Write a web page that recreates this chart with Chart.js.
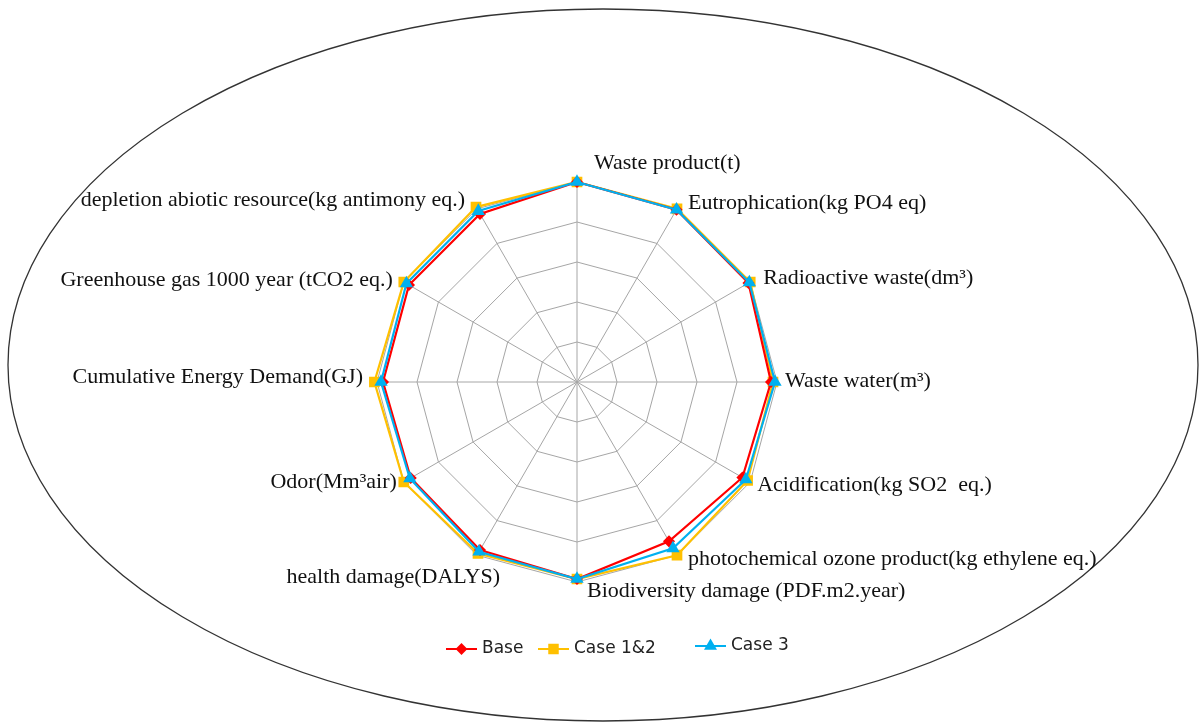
<!DOCTYPE html>
<html>
<head>
<meta charset="utf-8">
<script src="https://cdn.jsdelivr.net/npm/chart.js@4/dist/chart.umd.min.js"></script>
<style>
  body { margin: 0; background: #fff; }
  #radar { display: block; }
</style>
</head>
<body>
<canvas id="radar" width="1199" height="722"></canvas>
<script>
// categories (clockwise from top)
const categories = [
    "Waste product(t)",
    "Eutrophication(kg PO4 eq)",
    "Radioactive waste(dm³)",
    "Waste water(m³)",
    "Acidification(kg SO2  eq.)",
    "photochemical ozone product(kg ethylene eq.)",
    "Biodiversity damage (PDF.m2.year)",
    "health damage(DALYS)",
    "Odor(Mm³air)",
    "Cumulative Energy Demand(GJ)",
    "Greenhouse gas 1000 year (tCO2 eq.)",
    "depletion abiotic resource(kg antimony eq.)"
];

// series values (outer ring = 1)
const baseValues   = [1.00, 0.995, 0.99, 0.97, 0.955, 0.92, 0.985, 0.97, 0.96, 0.97, 0.97, 0.97];
const case12Values = [1.00, 1.00, 1.00, 0.98, 0.985, 1.00, 0.985, 0.99, 1.00, 1.013, 1.00, 1.01];
const case3Values  = [1.00, 0.995, 0.995, 0.99, 0.975, 0.96, 0.985, 0.98, 0.965, 0.98, 0.985, 0.987];

const seriesNames = ["Base", "Case 1&2", "Case 3"];

// grid rings
const scaleMin = 0;
const scaleMax = 1;
const scaleStep = 0.2;

const RED = "#ff0000";
const YELLOW = "#ffc000";
const BLUE = "#00b0f0";

// label placement relative to the end of each axis: [dx, dy, align]
const labelOffsets = [
    [17, -19, "left"],
    [11, -6, "left"],
    [13, -4, "left"],
    [8, -1, "left"],
    [7, 3, "left"],
    [11, 4, "left"],
    [10, 9, "left"],
    [23, 22, "right"],
    [-7, 0, "right"],
    [-14, -5, "right"],
    [-11, -2, "right"],
    [-12, -9, "right"]
];

// ellipse frame behind the chart
const framePlugin = {
    id: "frame",
    beforeDraw(chart) {
        const ctx = chart.ctx;
        ctx.save();
        ctx.fillStyle = "#fff";
        ctx.fillRect(0, 0, chart.width, chart.height);
        ctx.beginPath();
        ctx.ellipse(603, 365, 595, 356, 0, 0, Math.PI * 2);
        ctx.strokeStyle = "#333";
        ctx.lineWidth = 1.3;
        ctx.stroke();
        ctx.restore();
    }
};

// axis labels placed like the original text boxes
const axisLabelPlugin = {
    id: "axisLabels",
    afterDraw(chart) {
        const scale = chart.scales.r;
        const ctx = chart.ctx;
        ctx.save();
        ctx.font = '22px "Liberation Serif", "Times New Roman", serif';
        ctx.fillStyle = "#111";
        ctx.textBaseline = "middle";
        categories.forEach((label, i) => {
            const p = scale.getPointPosition(i, scale.drawingArea);
            const off = labelOffsets[i];
            ctx.textAlign = off[2];
            ctx.fillText(label, p.x + off[0], p.y + off[1]);
        });
        ctx.restore();
    }
};

// legend: line with marker, like the original
const legendPlugin = {
    id: "lineLegend",
    afterDraw(chart) {
        const ctx = chart.ctx;
        const spots = [[446, 649], [538, 649], [695, 646]];
        ctx.save();
        ctx.font = '17px "DejaVu Sans", Verdana, sans-serif';
        ctx.textBaseline = "middle";
        ctx.textAlign = "left";
        seriesNames.forEach((name, i) => {
            const ds = chart.data.datasets.find(d => d.label === name);
            const [x, y] = spots[i];
            ctx.strokeStyle = ds.borderColor;
            ctx.fillStyle = ds.borderColor;
            ctx.lineWidth = 2;
            ctx.beginPath();
            ctx.moveTo(x, y);
            ctx.lineTo(x + 31, y);
            ctx.stroke();
            Chart.helpers.drawPoint(ctx, {
                pointStyle: ds.pointStyle,
                radius: ds.pointRadius,
                borderWidth: 1
            }, x + 15.5, y);
            ctx.fillStyle = "#222";
            ctx.fillText(name, x + 36, y);
        });
        ctx.restore();
    }
};

const ctx1 = document.getElementById("radar").getContext("2d");
const chart1 = new Chart(ctx1, {
    type: "radar",
    data: {
        labels: categories,
        datasets: [
            {
                label: seriesNames[0],
                data: baseValues,
                borderColor: RED,
                backgroundColor: RED,
                pointBackgroundColor: RED,
                pointBorderColor: RED,
                pointStyle: "rectRot",
                pointRadius: 4.5,
                borderWidth: 2.2,
                fill: false,
                clip: false,
                order: 1
            },
            {
                label: seriesNames[1],
                data: case12Values,
                borderColor: YELLOW,
                backgroundColor: YELLOW,
                pointBackgroundColor: YELLOW,
                pointBorderColor: YELLOW,
                pointStyle: "rect",
                pointRadius: 6,
                borderWidth: 2.2,
                fill: false,
                clip: false,
                order: 2
            },
            {
                label: seriesNames[2],
                data: case3Values,
                borderColor: BLUE,
                backgroundColor: BLUE,
                pointBackgroundColor: BLUE,
                pointBorderColor: BLUE,
                pointStyle: "triangle",
                pointRadius: 5.5,
                borderWidth: 2.2,
                fill: false,
                clip: false,
                order: 0
            }
        ]
    },
    options: {
        responsive: false,
        animation: false,
        devicePixelRatio: 1,
        layout: {
            padding: { left: 377, right: 422, top: 182, bottom: 140 }
        },
        elements: { line: { tension: 0 } },
        plugins: {
            legend: { display: false },
            tooltip: { enabled: false }
        },
        scales: {
            r: {
                min: scaleMin,
                max: scaleMax,
                ticks: { display: false, stepSize: scaleStep },
                pointLabels: { display: false },
                grid: { color: "#a6a6a6", lineWidth: 1 },
                angleLines: { color: "#a6a6a6", lineWidth: 1 }
            }
        }
    },
    plugins: [framePlugin, axisLabelPlugin, legendPlugin]
});
</script>
</body>
</html>
